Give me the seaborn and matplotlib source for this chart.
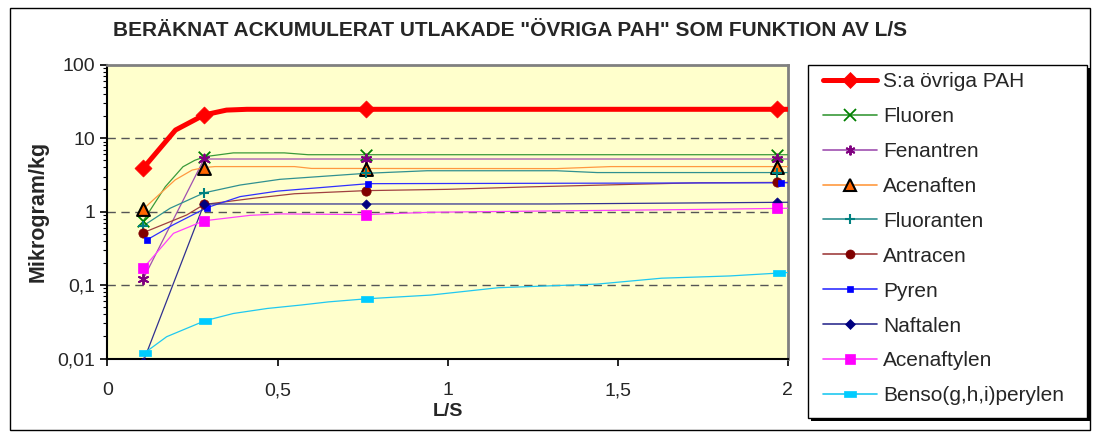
import matplotlib
matplotlib.use("Agg")
import matplotlib.pyplot as plt
import seaborn as sns
import pandas as pd
from matplotlib.lines import Line2D
from matplotlib.patches import Rectangle
from matplotlib.path import Path

# ---------------- data ----------------
title = 'BERÄKNAT ACKUMULERAT UTLAKADE "ÖVRIGA PAH" SOM FUNKTION AV L/S'
x_label = "L/S"
y_label = "Mikrogram/kg"
x_ticks = [0, 0.5, 1, 1.5, 2]
x_tick_labels = ["0", "0,5", "1", "1,5", "2"]
y_ticks = [0.01, 0.1, 1, 10, 100]
y_tick_labels = ["0,01", "0,1", "1", "10", "100"]

series_names = ["S:a övriga PAH", "Fluoren", "Fenantren", "Acenaften", "Fluoranten",
                "Antracen", "Pyren", "Naftalen", "Acenaftylen", "Benso(g,h,i)perylen"]

# marker (measured) points
mark_x = [0.105, 0.284, 0.759, 1.97]
mark_x_pyren = [0.115, 0.292, 0.767, 1.98]
mark_x_benso = [0.11, 0.287, 0.762, 1.975]

sum_mark = [3.9, 20.7, 24.7, 24.7]
fluoren_mark = [0.745, 5.6, 5.95, 5.95]
fenantren_mark = [0.121, 5.2, 5.2, 5.2]
acenaften_mark = [1.08, 3.9, 3.8, 4.0]
fluoranten_mark = [0.64, 1.8, 3.35, 3.35]
antracen_mark = [0.516, 1.25, 1.93, 2.5]
pyren_mark = [0.41, 1.13, 2.4, 2.47]
naftalen_mark = [0.009, 1.27, 1.27, 1.34]
acenaftylen_mark = [0.169, 0.75, 0.91, 1.11]
benso_mark = [0.012, 0.0327, 0.065, 0.147]

# calculated curves
sum_x = [0.105, 0.2, 0.284, 0.35, 0.41, 2.0]
sum_y = [3.9, 12.9, 20.7, 24.1, 24.7, 24.7]
fluoren_x = [0.105, 0.17, 0.222, 0.257, 0.287, 0.37, 0.52, 0.59, 2.0]
fluoren_y = [0.745, 2.18, 4.08, 5.0, 5.6, 6.3, 6.3, 5.95, 5.95]
fenantren_x = [0.105, 0.284, 2.0]
fenantren_y = [0.121, 5.2, 5.2]
acenaften_x = [0.105, 0.199, 0.249, 0.287, 0.316, 0.55, 0.6, 1.32, 1.48, 2.0]
acenaften_y = [1.08, 2.7, 3.68, 4.0, 4.1, 4.1, 3.87, 3.85, 4.1, 4.1]
fluoranten_x = [0.105, 0.184, 0.284, 0.39, 0.507, 0.76, 0.94, 1.32, 1.44, 2.0]
fluoranten_y = [0.64, 1.11, 1.8, 2.3, 2.75, 3.32, 3.6, 3.6, 3.4, 3.4]
antracen_x = [0.105, 0.233, 0.284, 0.42, 0.55, 0.76, 1.0, 1.24, 1.54, 1.74, 2.0]
antracen_y = [0.516, 0.9, 1.25, 1.5, 1.75, 1.93, 2.01, 2.17, 2.35, 2.47, 2.5]
pyren_x = [0.115, 0.193, 0.292, 0.39, 0.5, 0.767, 2.0]
pyren_y = [0.41, 0.66, 1.13, 1.6, 1.9, 2.4, 2.47]
naftalen_x = [0.105, 0.284, 1.3, 2.0]
naftalen_y = [0.009, 1.27, 1.27, 1.34]
acenaftylen_x = [0.105, 0.194, 0.284, 0.42, 0.51, 0.76, 0.95, 1.21, 1.74, 2.0]
acenaftylen_y = [0.169, 0.506, 0.75, 0.89, 0.93, 0.91, 0.98, 1.01, 1.07, 1.11]
benso_x = [0.11, 0.174, 0.287, 0.37, 0.47, 0.57, 0.65, 0.762, 0.95, 1.15, 1.44, 1.63, 1.83, 2.0]
benso_y = [0.012, 0.0198, 0.0327, 0.041, 0.048, 0.0535, 0.059, 0.065, 0.073, 0.092, 0.103,
           0.124, 0.133, 0.148]

# ---------------- styles ----------------
rect_marker = Path([(-1, -0.55), (1, -0.55), (1, 0.55), (-1, 0.55), (-1, -0.55)],
                   [Path.MOVETO, Path.LINETO, Path.LINETO, Path.LINETO, Path.CLOSEPOLY])

styles = [
    dict(lx=sum_x, ly=sum_y, mx=mark_x, my=sum_mark, lc="#ff0000", lw=3.6,
         m="D", mc="#ff0000", me="#ff0000", s=75, mew=0.5, lms=8),
    dict(lx=fluoren_x, ly=fluoren_y, mx=mark_x, my=fluoren_mark, lc="#3a9a3a", lw=0.9,
         m="x", mc="#008000", me="#008000", s=70, mew=1.3, lms=8),
    dict(lx=fenantren_x, ly=fenantren_y, mx=mark_x, my=fenantren_mark, lc="#a050b0", lw=0.9,
         m=(6, 2, 0), mc="#800080", me="#800080", s=50, mew=1.4, lms=7),
    dict(lx=acenaften_x, ly=acenaften_y, mx=mark_x, my=acenaften_mark, lc="#ff9940", lw=0.9,
         m="^", mc="#ff6600", me="#000000", s=85, mew=1.5, lms=9),
    dict(lx=fluoranten_x, ly=fluoranten_y, mx=mark_x, my=fluoranten_mark, lc="#309090", lw=0.9,
         m="+", mc="#008080", me="#008080", s=60, mew=1.5, lms=7),
    dict(lx=antracen_x, ly=antracen_y, mx=mark_x, my=antracen_mark, lc="#a04040", lw=0.9,
         m="o", mc="#800000", me="#800000", s=45, mew=0.5, lms=6.5),
    dict(lx=pyren_x, ly=pyren_y, mx=mark_x_pyren, my=pyren_mark, lc="#3030ff", lw=0.9,
         m="s", mc="#0000ff", me="#0000ff", s=25, mew=0.5, lms=5),
    dict(lx=naftalen_x, ly=naftalen_y, mx=mark_x, my=naftalen_mark, lc="#303090", lw=0.9,
         m="D", mc="#000080", me="#000080", s=22, mew=0.5, lms=4.6),
    dict(lx=acenaftylen_x, ly=acenaftylen_y, mx=mark_x, my=acenaftylen_mark, lc="#ff40ff", lw=0.9,
         m="s", mc="#ff00ff", me="#ff00ff", s=50, mew=0.5, lms=7),
    dict(lx=benso_x, ly=benso_y, mx=mark_x_benso, my=benso_mark, lc="#20c8f0", lw=0.9,
         m=rect_marker, mc="#00ccff", me="#00ccff", s=64, mew=0.5, lms=8),
]

# ---------------- figure ----------------
sns.set_theme(style="white")
plt.rcParams["font.family"] = ["Liberation Sans", "DejaVu Sans"]

W, H = 1093, 437
fig = plt.figure(figsize=(W / 100, H / 100), dpi=100)
fig.patch.set_facecolor("white")
ax = fig.add_axes([107.5 / W, 1 - 358.5 / H, 680 / W, (358.5 - 64.7) / H])
ax.set_facecolor("#ffffcc")

for st in styles:
    df_l = pd.DataFrame({"x": st["lx"], "y": st["ly"]})
    sns.lineplot(data=df_l, x="x", y="y", ax=ax, color=st["lc"], lw=st["lw"],
                 sort=False, estimator=None, zorder=3 if st["lw"] < 2 else 5)
for st in styles:
    df_m = pd.DataFrame({"x": st["mx"], "y": st["my"]})
    if st["m"] in ("x", "+") or isinstance(st["m"], tuple):
        sns.scatterplot(data=df_m, x="x", y="y", ax=ax, marker=st["m"], s=st["s"],
                        color=st["mc"], linewidth=st["mew"], zorder=6)
    else:
        sns.scatterplot(data=df_m, x="x", y="y", ax=ax, marker=st["m"], s=st["s"],
                        color=st["mc"], edgecolor=st["me"], linewidth=st["mew"], zorder=6)

ax.set_yscale("log")
ax.set_xlim(0, 2)
ax.set_ylim(0.01, 100)
ax.set_xticks(x_ticks)
ax.set_xticklabels(x_tick_labels, fontsize=14)
ax.set_yticks(y_ticks)
ax.set_yticklabels(y_tick_labels, fontsize=14)
ax.minorticks_on()
ax.xaxis.set_minor_locator(matplotlib.ticker.NullLocator())
ax.tick_params(axis="x", which="major", direction="out", length=5, width=1.2,
               color="black", bottom=True, pad=12)
ax.tick_params(axis="y", which="major", direction="out", length=5, width=1.2,
               color="black", left=True, pad=4)
ax.tick_params(axis="y", which="minor", direction="out", length=3, width=0.8,
               color="black", left=True)
ax.grid(False)
for yv in [0.1, 1, 10]:
    ax.axhline(yv, color="#555555", lw=1.0, ls=(0, (6, 4)), zorder=1)

for side in ["top", "right"]:
    ax.spines[side].set_color("#808080")
    ax.spines[side].set_linewidth(2)
for side in ["left", "bottom"]:
    ax.spines[side].set_color("black")
    ax.spines[side].set_linewidth(1.5)

ax.set_xlabel(x_label, fontsize=14, fontweight="bold", labelpad=3)
ax.set_ylabel(y_label, fontsize=15.5, fontweight="bold", labelpad=6)

fig.text(113 / W, 1 - 30 / H, title, fontsize=15, fontweight="bold", ha="left", va="center")

# legend box (frame + shadow) and entries
fig.patches.append(Rectangle((811 / W, 1 - 421 / H), 279 / W, 353 / H, transform=fig.transFigure,
                             facecolor="black", edgecolor="black", lw=0, zorder=1))
fig.patches.append(Rectangle((808 / W, 1 - 418 / H), 279 / W, 353 / H, transform=fig.transFigure,
                             facecolor="white", edgecolor="black", lw=1.0, zorder=2))
handles = []
for st in styles:
    handles.append(Line2D([0], [0], color=st["lc"], lw=st["lw"] if st["lw"] > 2 else 1.2,
                          marker=st["m"], markersize=st["lms"], markerfacecolor=st["mc"],
                          markeredgecolor=st["me"], markeredgewidth=st["mew"]))
leg = fig.legend(handles=handles, labels=series_names, loc="upper left",
                 bbox_to_anchor=(823 / W, 1 - 72 / H), fontsize=15, frameon=False,
                 handlelength=2.6, handletextpad=0.3, labelspacing=0.765,
                 borderpad=0, borderaxespad=0)
leg.set_zorder(5)

fig.patches.append(Rectangle((10 / W, 1 - 430 / H), 1080 / W, 422 / H, transform=fig.transFigure,
                             fill=False, edgecolor="black", lw=1.0))

fig.savefig("out.png", dpi=100)
